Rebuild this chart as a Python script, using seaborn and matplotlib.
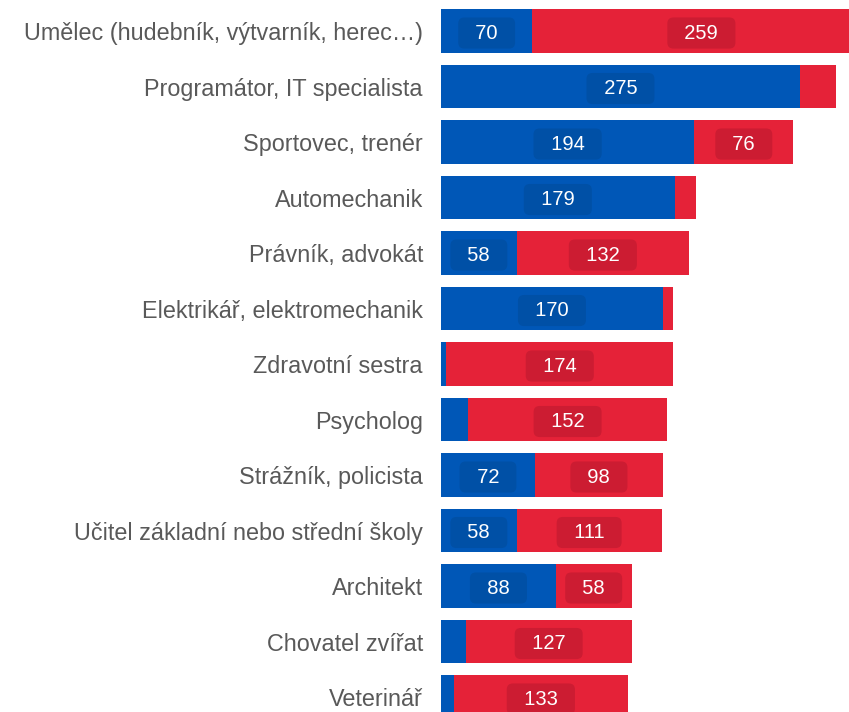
import matplotlib
matplotlib.use("Agg")
import matplotlib.pyplot as plt
import seaborn as sns
import pandas as pd

# Categories and values
categories = [
    "Umělec (hudebník, výtvarník, herec…)",
    "Programátor, IT specialista",
    "Sportovec, trenér",
    "Automechanik",
    "Právník, advokát",
    "Elektrikář, elektromechanik",
    "Zdravotní sestra",
    "Psycholog",
    "Strážník, policista",
    "Učitel základní nebo střední školy",
    "Architekt",
    "Chovatel zvířat",
    "Veterinář",
]
blue_values = [70, 275, 194, 179, 58, 170, 4, 21, 72, 58, 88, 19, 10]
red_values = [259, 28, 76, 16, 132, 8, 174, 152, 98, 111, 58, 127, 133]

BLUE = "#0057b7"
RED = "#e52238"
BLUE_BOX = "#0050a6"
RED_BOX = "#cc1c32"

df = pd.DataFrame({"category": categories, "blue": blue_values, "red": red_values})
df["total"] = df["blue"] + df["red"]

sns.set_theme(style="white")
plt.rcParams["font.family"] = ["Liberation Sans", "DejaVu Sans"]

fig = plt.figure(figsize=(8.49, 7.12), dpi=100)
ax = fig.add_axes([441 / 849, 0, 1 - 441 / 849, 1])

# red bar covers full total, blue drawn on top of it
sns.barplot(data=df, y="category", x="total", color=RED, orient="h",
            width=0.79, saturation=1, ax=ax, linewidth=0)
sns.barplot(data=df, y="category", x="blue", color=BLUE, orient="h",
            width=0.79, saturation=1, ax=ax, linewidth=0)

ax.set_xlim(0, 312.6)
ax.set_ylim(12.27, -0.559)

for i, row in df.iterrows():
    segments = [(row["blue"], 0, BLUE_BOX), (row["red"], row["blue"], RED_BOX)]
    for val, start, box in segments:
        if val < 40:
            continue
        ax.text(start + val / 2, i, "  " + str(val) + "  ", ha="center",
                va="center_baseline", color="white", fontsize=14.5,
                bbox=dict(boxstyle="round,pad=0.3,rounding_size=0.3",
                          fc=box, ec="none"))

ax.set_xlabel("")
ax.set_ylabel("")
ax.set_xticks([])
ax.tick_params(axis="y", length=0, pad=13, labelsize=16.8, labelcolor="#595959")
for s in ax.spines.values():
    s.set_visible(False)

fig.savefig("out.png", dpi=100)
